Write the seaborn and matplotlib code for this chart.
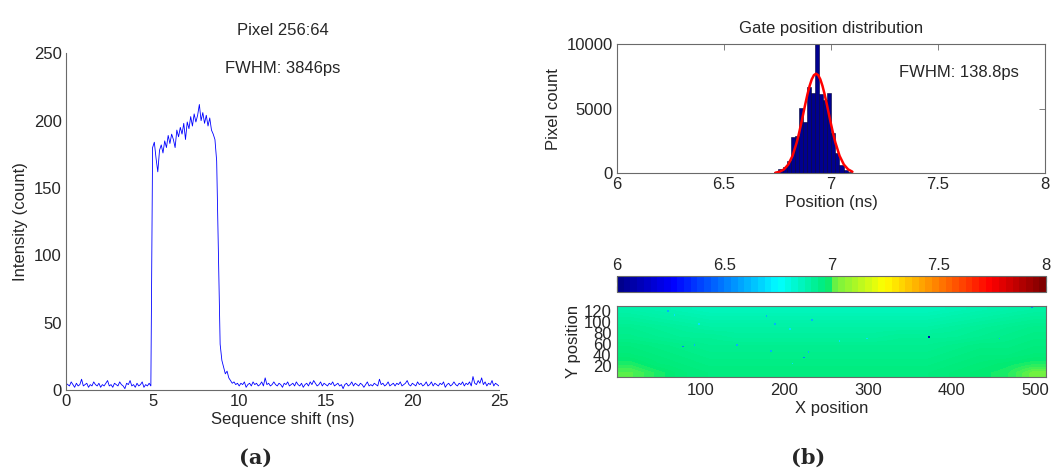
import numpy as np
import matplotlib
matplotlib.use('Agg')
import matplotlib.pyplot as plt
from matplotlib.colors import LinearSegmentedColormap, Normalize
from matplotlib.cm import ScalarMappable
import seaborn as sns

# (a) intensity of pixel 256:64, one value every 0.1 ns from 0 to 25 ns
intensity = [
    5, 4, 3, 6, 4, 2, 5, 3, 4, 8,
    3, 4, 5, 2, 4, 3, 6, 4, 3, 5,
    2, 4, 3, 5, 7, 3, 4, 2, 5, 4,
    3, 6, 4, 3, 1, 5, 4, 7, 3, 4,
    2, 5, 3, 4, 6, 2, 4, 3, 5, 3,
    # gate open
    180, 184, 172, 162, 178, 182, 176, 185, 180, 189,
    183, 190, 186, 180, 193, 188, 195, 190, 198, 186,
    199, 194, 203, 196, 205, 199, 204, 212, 200, 206,
    198, 204, 196, 202, 193, 190, 186,
    # falling edge
    170, 100, 34, 22, 17, 12, 14, 9, 7, 5,
    6, 4, 5,
    3, 5, 4, 6, 2, 4, 5, 3, 6, 4,
    5, 3, 4, 6, 3, 9, 4, 5, 3, 4,
    6, 4, 3, 5, 4, 2, 5, 4, 6, 3,
    4, 5, 3, 6, 4, 3, 5, 2, 4, 5,
    3, 6, 4, 7, 5, 3, 4, 6, 3, 5,
    4, 3, 5, 4, 6, 3, 4, 5, 3, 4,
    1, 4, 5, 3, 4, 6, 3, 5, 4, 3,
    5, 4, 2, 4, 6, 3, 4, 3, 5, 4,
    3, 8, 4, 5, 3, 4, 6, 3, 4, 5,
    3, 5, 4, 6, 3, 4, 5, 7, 4, 3,
    5, 4, 3, 6, 4, 5, 3, 4, 6, 3,
    4, 6, 3, 5, 4, 3, 5, 4, 6, 2,
    4, 5, 3, 4, 6, 4, 3, 5, 4, 6,
    3, 5, 4, 6, 3, 10, 5, 4, 7, 5,
    9, 4, 6, 3, 5, 4, 7, 3, 5, 4,
    3,
]
shift_ns = np.linspace(0, 25, len(intensity))

# (b) gate position histogram (bin centres in ns, pixel counts)
gate_pos = [6.289, 6.308, 6.441, 6.460, 6.593, 6.612, 6.631, 6.650, 6.669,
            6.688, 6.707, 6.726, 6.745, 6.764, 6.783, 6.802, 6.821, 6.840,
            6.859, 6.878, 6.897, 6.916, 6.935, 6.954, 6.973, 6.992, 7.011,
            7.030, 7.049, 7.068, 7.087, 7.106, 7.125]
gate_count = [30, 30, 30, 30, 30, 30, 30, 30, 30,
              30, 30, 20, 60, 350, 500, 980, 2840, 2900,
              5030, 4000, 6700, 6200, 10000, 6100, 5700, 6200, 3150,
              1550, 650, 260, 120, 50, 20]
bin_w = 0.019

# gaussian fit drawn in red
fit_x = [6.74, 6.76, 6.78, 6.80, 6.82, 6.84, 6.85, 6.86, 6.87, 6.88, 6.89,
         6.90, 6.91, 6.92, 6.93, 6.94, 6.95, 6.96, 6.97, 6.98, 6.99, 7.00,
         7.01, 7.02, 7.04, 7.06, 7.08, 7.10]
fit_y = [42, 119, 300, 674, 1346, 2396, 3062, 3800, 4582, 5371, 6114,
         6763, 7268, 7590, 7700, 7590, 7268, 6763, 6114, 5371, 4582, 3800,
         3062, 2396, 1346, 674, 300, 119]

# gate position map, coarse 16 x 8 blocks (rows bottom -> top)
gate_map = [
    [7.01, 6.99, 6.97, 6.96, 6.96, 6.96, 6.96, 6.96, 6.96, 6.96, 6.96, 6.96, 6.97, 6.98, 6.99, 7.02],
    [6.99, 6.97, 6.96, 6.95, 6.95, 6.95, 6.95, 6.95, 6.95, 6.95, 6.95, 6.95, 6.96, 6.97, 6.98, 6.99],
    [6.97, 6.96, 6.95, 6.94, 6.94, 6.94, 6.94, 6.94, 6.94, 6.94, 6.94, 6.94, 6.95, 6.96, 6.96, 6.97],
    [6.96, 6.95, 6.94, 6.93, 6.93, 6.93, 6.93, 6.93, 6.93, 6.93, 6.93, 6.93, 6.94, 6.95, 6.95, 6.96],
    [6.94, 6.93, 6.92, 6.92, 6.91, 6.91, 6.91, 6.91, 6.91, 6.91, 6.92, 6.92, 6.92, 6.93, 6.94, 6.95],
    [6.93, 6.92, 6.91, 6.90, 6.90, 6.90, 6.90, 6.90, 6.90, 6.90, 6.90, 6.90, 6.91, 6.92, 6.93, 6.94],
    [6.91, 6.90, 6.89, 6.88, 6.88, 6.88, 6.88, 6.88, 6.88, 6.88, 6.88, 6.88, 6.89, 6.90, 6.91, 6.92],
    [6.89, 6.88, 6.87, 6.86, 6.86, 6.86, 6.86, 6.86, 6.86, 6.86, 6.86, 6.86, 6.87, 6.88, 6.89, 6.90],
]
# single outlier pixels
odd_x = [61, 69, 179, 189, 207, 233, 373, 457, 79, 93, 184, 224, 229, 210, 144, 299, 496, 98, 266]
odd_y = [119, 112, 111, 96, 87, 103, 73, 70, 56, 59, 48, 36, 46, 25, 59, 70, 126, 96, 66]
odd_v = [6.6, 6.7, 6.6, 6.6, 6.7, 6.6, 6.1, 6.6, 6.5, 6.6, 6.6, 6.5, 6.6, 6.7, 6.6, 6.7, 6.5, 6.7, 6.7]

sns.set_style('white')
plt.rcParams['font.family'] = ['Liberation Sans', 'DejaVu Sans']
plt.rcParams['font.size'] = 12
plt.rcParams['xtick.direction'] = 'in'
plt.rcParams['ytick.direction'] = 'in'

# matlab-like jet
jet_cols = [(0.0, (0, 0, 0.55)), (0.125, (0, 0, 1)), (0.25, (0, 0.5, 1)),
            (0.375, (0, 1, 1)), (0.49, (0, 0.92, 0.45)), (0.51, (0.45, 0.95, 0.25)),
            (0.625, (1, 1, 0)), (0.75, (1, 0.5, 0)), (0.875, (1, 0, 0)),
            (1.0, (0.5, 0, 0))]
jet_smooth = LinearSegmentedColormap.from_list('mjet', jet_cols, N=256)
jet64 = LinearSegmentedColormap.from_list('mjet64', jet_cols, N=64)

fig = plt.figure(figsize=(10.56, 4.76), dpi=100)
spine_c = '#6a6a6a'

# ---- (a)
ax_a = fig.add_axes([0.0625, 0.1807, 0.410, 0.7073])
sns.lineplot(x=shift_ns, y=intensity, ax=ax_a, color='blue', linewidth=0.6,
             estimator=None)
ax_a.set_xlim(0, 25)
ax_a.set_ylim(0, 250)
ax_a.set_xticks([0, 5, 10, 15, 20, 25])
ax_a.set_yticks([0, 50, 100, 150, 200, 250])
ax_a.set_xlabel('Sequence shift (ns)', labelpad=2)
ax_a.set_ylabel('Intensity (count)', labelpad=4)
ax_a.set_title('Pixel 256:64', fontsize=12, pad=13)
ax_a.text(0.5, 0.955, 'FWHM: 3846ps', transform=ax_a.transAxes,
          ha='center', va='center', fontsize=12)
sns.despine(ax=ax_a)
for s in ['left', 'bottom']:
    ax_a.spines[s].set_color(spine_c)
    ax_a.spines[s].set_linewidth(0.8)
ax_a.tick_params(length=4, width=0.6, color=spine_c, pad=3)

# ---- (b) histogram
ax_h = fig.add_axes([0.5843, 0.636, 0.4053, 0.2716])
sns.histplot(x=gate_pos, weights=gate_count, binwidth=bin_w,
             binrange=(6.2225, 7.1345), ax=ax_h, color='#00008f',
             edgecolor='#000033', linewidth=0.4, alpha=1)
sns.lineplot(x=fit_x, y=fit_y, ax=ax_h, color='red', linewidth=1.8, estimator=None)
ax_h.set_xlim(6, 8)
ax_h.set_ylim(0, 10000)
ax_h.set_xticks([6, 6.5, 7, 7.5, 8])
ax_h.set_xticklabels(['6', '6.5', '7', '7.5', '8'])
ax_h.set_yticks([0, 5000, 10000])
ax_h.set_xlabel('Position (ns)', labelpad=2)
ax_h.set_ylabel('Pixel count', labelpad=4)
ax_h.set_title('Gate position distribution', fontsize=12, pad=8)
ax_h.text(0.80, 0.78, 'FWHM: 138.8ps', transform=ax_h.transAxes,
          ha='center', va='center', fontsize=12)
for s in ax_h.spines.values():
    s.set_color(spine_c)
    s.set_linewidth(0.8)
ax_h.tick_params(length=4, width=0.6, color=spine_c, top=True, right=True, pad=3)

# ---- (b) colour bar
cax = fig.add_axes([0.5843, 0.3866, 0.4063, 0.0336])
cb = fig.colorbar(ScalarMappable(norm=Normalize(6, 8), cmap=jet64), cax=cax,
                  orientation='horizontal')
cb.set_ticks([6, 6.5, 7, 7.5, 8])
cb.set_ticklabels(['6', '6.5', '7', '7.5', '8'])
cax.xaxis.set_ticks_position('both')
cax.tick_params(axis='x', direction='in', length=4, width=0.8, color='#222222',
                labeltop=True, labelbottom=False, pad=2)
cb.outline.set_edgecolor(spine_c)
cb.outline.set_linewidth(0.8)

# ---- (b) gate position map
ax_m = fig.add_axes([0.5843, 0.2074, 0.4063, 0.1498])
ax_m.imshow(np.array(gate_map), extent=(0.5, 512.5, 0.5, 128.5), origin='lower',
            aspect='auto', cmap=jet_smooth, vmin=6, vmax=8, interpolation='bilinear')
ax_m.scatter(odd_x, odd_y, c=odd_v, cmap=jet_smooth, vmin=6, vmax=8, marker='s',
             s=1.5, linewidths=0)
ax_m.set_xlim(0.5, 512.5)
ax_m.set_ylim(0.5, 128.5)
ax_m.set_xticks([100, 200, 300, 400, 500])
ax_m.set_yticks([20, 40, 60, 80, 100, 120])
ax_m.set_xlabel('X position', labelpad=2)
ax_m.set_ylabel('Y position', labelpad=2)
for s in ax_m.spines.values():
    s.set_color(spine_c)
    s.set_linewidth(0.8)
ax_m.tick_params(length=0, pad=4)

# panel letters
fig.text(0.2424, 0.038, '(a)', ha='center', va='center', fontsize=15,
         fontweight='bold', family='DejaVu Serif')
fig.text(0.765, 0.038, '(b)', ha='center', va='center', fontsize=15,
         fontweight='bold', family='DejaVu Serif')

fig.savefig('out.png', dpi=100)
